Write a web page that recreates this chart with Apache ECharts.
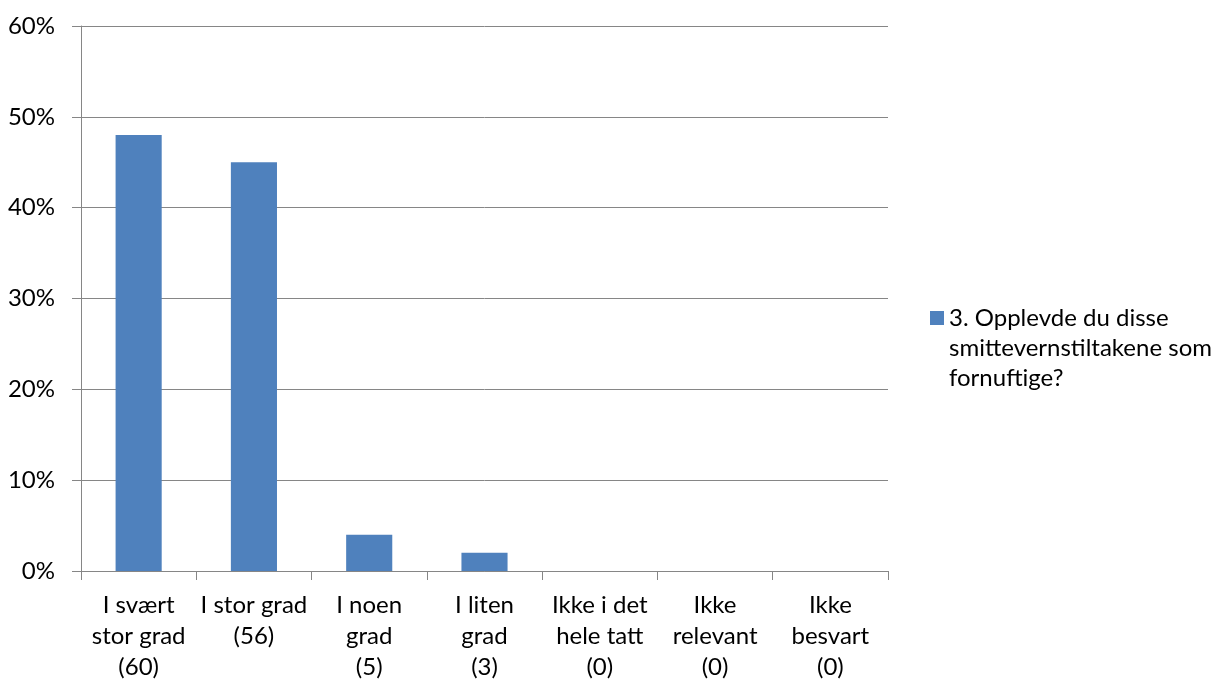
<!DOCTYPE html>
<html>
<head>
<meta charset="utf-8">
<script src="https://cdn.jsdelivr.net/npm/echarts@6/dist/echarts.min.js"></script>
<style>
  html, body { margin: 0; padding: 0; background: #fff; }
  #chart { width: 1230px; height: 684px; }
</style>
</head>
<body>
<div id="chart"></div>
<script>
// Survey answers: category labels, response counts and share of responses (%)
const categories = [
  'I svært\nstor grad', 'I stor grad', 'I noen\ngrad', 'I liten\ngrad',
  'Ikke i det\nhele tatt', 'Ikke\nrelevant', 'Ikke\nbesvart'
];
const counts = [60, 56, 5, 3, 0, 0, 0];
const percents = [48, 45, 4, 2, 0, 0, 0];
const yTicks = [0, 10, 20, 30, 40, 50, 60];
const seriesName = '3. Opplevde du disse\nsmittevernstiltakene som\nfornuftige?';

const FONT = 'Lato, "Noto Sans", sans-serif';
const FONT_SIZE = 24;
const GRID_COLOR = '#868686';
const BAR_COLOR = '#4f81bd';

const axisLabels = categories.map((c, i) => c + '\n(' + counts[i] + ')');

// Legend marker: a square sitting beside the first text line of a three-line entry.
// The zero-length segments stretch the path's bounds to the full entry height.
const LEGEND_LINE = 30;
const legendIcon = 'path://M0,0L0,0M0,8L14,8L14,22L0,22ZM14,90L14,90';

const chart = echarts.init(document.getElementById('chart'), null, { renderer: 'canvas' });
chart.setOption({
  animation: false,
  textStyle: { fontFamily: FONT },
  grid: { left: 81, right: 342, top: 26, bottom: 113, containLabel: false },
  legend: {
    data: [{ name: seriesName, icon: legendIcon }],
    orient: 'vertical',
    left: 930,
    top: 303,
    padding: 0,
    itemWidth: 14,
    itemHeight: LEGEND_LINE * 3,
    itemGap: 0,
    selectedMode: false,
    textStyle: {
      fontFamily: FONT, fontSize: FONT_SIZE, color: '#000', lineHeight: LEGEND_LINE
    }
  },
  xAxis: {
    type: 'category',
    data: axisLabels,
    boundaryGap: true,
    axisLine: { lineStyle: { color: GRID_COLOR, width: 1 } },
    axisTick: { show: true, length: 9, inside: false, alignWithLabel: false, lineStyle: { color: GRID_COLOR } },
    axisLabel: {
      interval: 0, margin: 19, color: '#000', fontSize: FONT_SIZE, lineHeight: 31, fontFamily: FONT
    }
  },
  yAxis: {
    type: 'value',
    min: yTicks[0],
    max: yTicks[yTicks.length - 1],
    interval: 10,
    axisLine: { show: true, lineStyle: { color: GRID_COLOR, width: 1 } },
    axisTick: { show: true, length: 9, lineStyle: { color: GRID_COLOR } },
    splitLine: { show: true, lineStyle: { color: GRID_COLOR, width: 1 } },
    axisLabel: {
      formatter: '{value}%', margin: 26, color: '#000', fontSize: FONT_SIZE, fontFamily: FONT
    }
  },
  series: [{
    name: seriesName,
    type: 'bar',
    data: percents,
    barCategoryGap: '60%',
    itemStyle: { color: BAR_COLOR }
  }]
});
</script>
</body>
</html>
